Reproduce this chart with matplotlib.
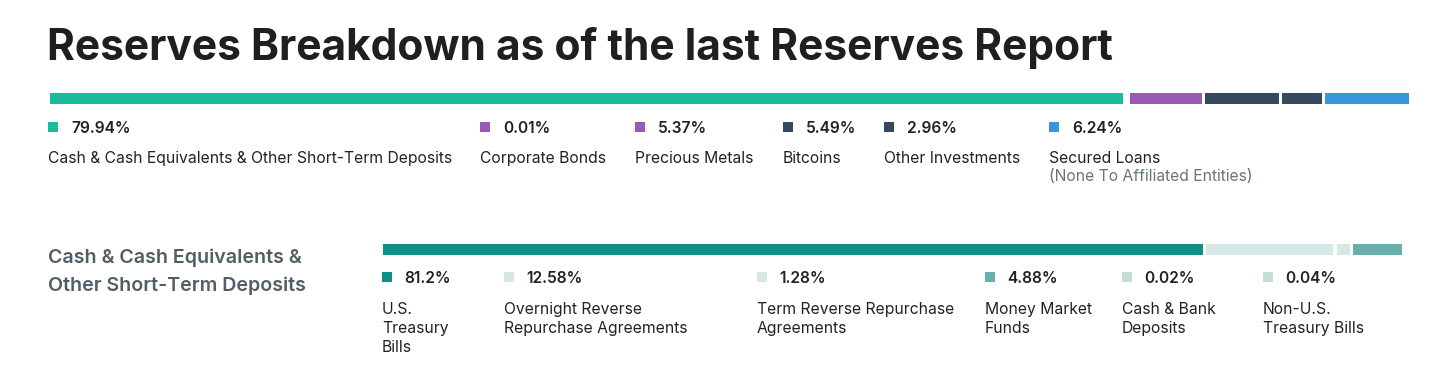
import matplotlib
matplotlib.use("Agg")
import matplotlib.pyplot as plt

# ---------------- data ----------------
title = "Reserves Breakdown as of the last Reserves Report"

top_labels = [
    "Cash & Cash Equivalents & Other Short-Term Deposits",
    "Corporate Bonds",
    "Precious Metals",
    "Bitcoins",
    "Other Investments",
    "Secured Loans",
]
top_sublabels = ["", "", "", "", "", "(None To Affiliated Entities)"]
top_values = [79.94, 0.01, 5.37, 5.49, 2.96, 6.24]
top_colors = ["#1abc9c", "#9b59b6", "#9b59b6", "#34495e", "#34495e", "#3498db"]

cash_heading = "Cash & Cash Equivalents &\nOther Short-Term Deposits"
cash_labels = [
    "U.S.\nTreasury\nBills",
    "Overnight Reverse\nRepurchase Agreements",
    "Term Reverse Repurchase\nAgreements",
    "Money Market\nFunds",
    "Cash & Bank\nDeposits",
    "Non-U.S.\nTreasury Bills",
]
cash_values = [81.2, 12.58, 1.28, 4.88, 0.02, 0.04]
cash_colors = ["#0f8f8b", "#d5e8e5", "#d5e8e5", "#68afab", "#c4ddd9", "#c4ddd9"]

# ---------------- layout ----------------
W, H = 1456, 382
DPI = 100
FONT = "Inter"
DARK = "#222222"
GREY = "#66757c"

fig = plt.figure(figsize=(W / DPI, H / DPI), dpi=DPI)
fig.patch.set_facecolor("white")


def fx(x):
    return x / W


def fy(y):
    return 1 - y / H


def put(x, y, s, **kw):
    kw.setdefault("family", FONT)
    kw.setdefault("va", "baseline")
    kw.setdefault("ha", "left")
    fig.text(fx(x), fy(y), s, **kw)


def stacked_bar(x0, x1, y_top, y_bot, values, colors, gap_px):
    """Stacked horizontal bar with fixed pixel gaps between segments."""
    ax = fig.add_axes([fx(x0), fy(y_bot), (x1 - x0) / W, (y_bot - y_top) / H])
    total = sum(values)
    n_gaps = len(values) - 1
    width_px = x1 - x0
    gap = gap_px * total / (width_px - n_gaps * gap_px)  # gap in data units
    left = 0
    for i, (v, c) in enumerate(zip(values, colors)):
        ax.barh(0, v, left=left + i * gap, height=1, color=c, linewidth=0,
                align="center")
        left += v
    ax.set_xlim(0, total + n_gaps * gap)
    ax.set_ylim(-0.5, 0.5)
    ax.axis("off")
    return ax


def marker(x, y, c):
    ax = fig.add_axes([fx(x), fy(y + 10), 10 / W, 10 / H])
    ax.set_facecolor(c)
    ax.set_xticks([])
    ax.set_yticks([])
    for s in ax.spines.values():
        s.set_visible(False)


# title
put(47, 60, title, fontsize=30.6, fontweight="bold", color="#1f1f1f")

# top bar
stacked_bar(50, 1409, 93, 104, top_values, top_colors, gap_px=3.2)

top_x = [48, 480, 635, 783, 884, 1049]
for x, lab, sub, v, c in zip(top_x, top_labels, top_sublabels, top_values, top_colors):
    marker(x, 122, c)
    put(x + 23, 133, f"{v:.2f}%", fontsize=11.2, fontweight="semibold", color=DARK)
    put(x, 163, lab, fontsize=11.3, color=DARK)
    if sub:
        put(x, 181, sub, fontsize=11.3, color=GREY)

# cash heading
for i, line in enumerate(cash_heading.split("\n")):
    put(48, 263 + i * 28, line, fontsize=14.1, fontweight="semibold", color="#515e65")

# second bar
stacked_bar(383, 1409, 244, 255, cash_values, cash_colors, gap_px=3.2)

cash_x = [382, 504, 757, 985, 1122, 1263]
for x, lab, v, c in zip(cash_x, cash_labels, cash_values, cash_colors):
    marker(x, 272, c)
    txt = f"{v:.1f}%" if abs(v * 10 - round(v * 10)) < 1e-9 else f"{v:.2f}%"
    put(x + 22, 283, txt, fontsize=11.2, fontweight="semibold", color=DARK)
    for i, line in enumerate(lab.split("\n")):
        put(x, 314 + i * 19, line, fontsize=11.3, color=DARK)

fig.savefig("out.png", dpi=DPI, facecolor="white")
